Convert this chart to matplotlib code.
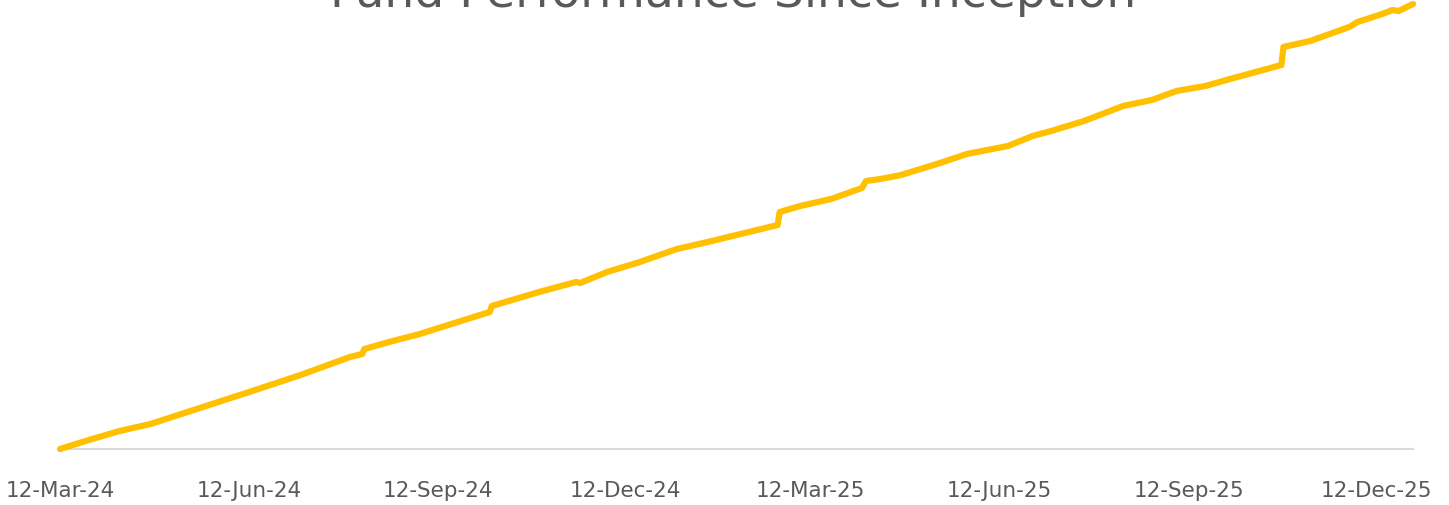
import matplotlib
matplotlib.use("Agg")
import matplotlib.pyplot as plt
import matplotlib.dates as mdates
import pandas as pd

# Data (cumulative return, %)
dates = [
    "2024-03-12", "2024-03-26", "2024-04-10", "2024-04-25", "2024-06-12", "2024-07-07",
    "2024-07-31", "2024-08-06", "2024-08-07", "2024-08-19", "2024-09-03", "2024-09-23",
    "2024-10-07", "2024-10-08", "2024-10-31", "2024-11-18", "2024-11-20", "2024-12-03",
    "2024-12-19", "2025-01-06", "2025-01-21", "2025-02-06", "2025-02-24", "2025-02-25",
    "2025-03-07", "2025-03-22", "2025-04-06", "2025-04-08", "2025-04-15", "2025-04-25",
    "2025-05-14", "2025-05-27", "2025-06-16", "2025-06-28", "2025-07-07", "2025-07-23",
    "2025-08-11", "2025-08-25", "2025-09-06", "2025-09-20", "2025-10-02", "2025-10-27",
    "2025-10-28", "2025-11-10", "2025-11-29", "2025-12-03", "2025-12-15", "2025-12-20",
    "2025-12-23", "2025-12-30",
]
heights = [
    0, 9, 18, 25, 57, 74,
    92, 95, 100, 107, 115, 128,
    137, 143, 157, 167, 166, 177,
    187, 200, 207, 215, 224, 237,
    243, 250, 261, 268, 270, 274,
    286, 295, 303, 313, 318, 328,
    343, 349, 358, 363, 370, 384,
    402, 408, 422, 427, 435, 439,
    438, 445,
]
returns = [h / 18.0 for h in heights]

tick_dates = ["2024-03-12", "2024-06-12", "2024-09-12", "2024-12-12",
              "2025-03-12", "2025-06-12", "2025-09-12", "2025-12-12"]
title = "Fund Performance Since Inception"

x = pd.to_datetime(dates)
ticks = pd.to_datetime(tick_dates)

W, H = 1449, 506
fig = plt.figure(figsize=(W / 100, H / 100), dpi=100)
ax = fig.add_axes([60 / W, 56 / H, 1353 / W, 450 / H])

ax.plot(x, returns, color="#FFC000", linewidth=4.5, solid_joinstyle="round",
        solid_capstyle="round", zorder=3, clip_on=False)

ax.set_xlim(x[0], x[-1])
ax.set_ylim(0, 25)
ax.set_xticks(ticks)
ax.xaxis.set_major_formatter(mdates.DateFormatter("%d-%b-%y"))
ax.tick_params(axis="x", length=0, pad=22, labelsize=15.5, labelcolor="#595959")
ax.set_yticks([])
for s in ["top", "right", "left"]:
    ax.spines[s].set_visible(False)
ax.spines["bottom"].set_color("#D9D9D9")
ax.spines["bottom"].set_linewidth(1.5)
ax.patch.set_alpha(0)

fig.text(733 / W, 1 - 7 / H, title, ha="center", va="baseline",
         fontsize=34, color="#595959")

fig.savefig("out.png", dpi=100)
